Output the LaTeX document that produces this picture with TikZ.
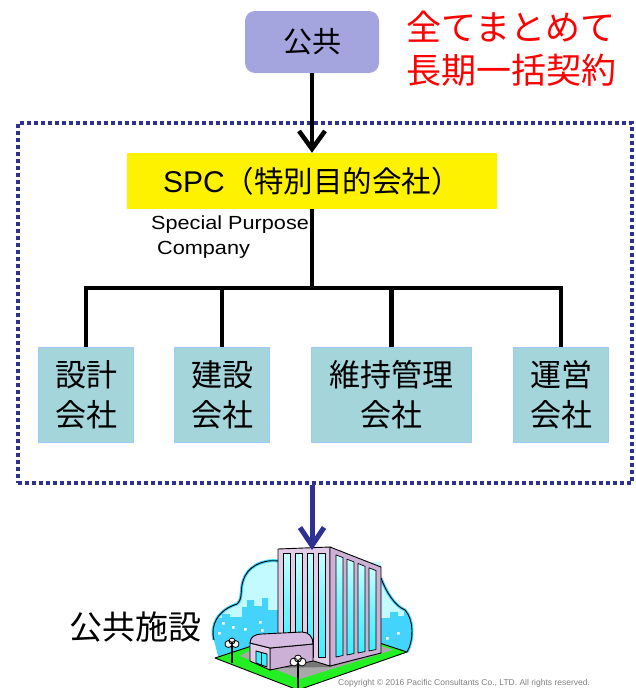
\documentclass[tikz,border=0pt]{standalone}
\usepackage{fontspec}
\setmainfont{Liberation Sans}
\newfontfamily\jp{Noto Sans CJK JP}
\newfontfamily\widesans[FakeStretch=1.14]{Liberation Sans}
\usetikzlibrary{arrows.meta}

\definecolor{pubfill}{HTML}{A4A4DE}
\definecolor{framenavy}{HTML}{2E3192}
\definecolor{unitfill}{HTML}{A3D5DB}
\definecolor{unitedge}{HTML}{9CCBFA}
\definecolor{cloudfill}{HTML}{C2FAFF}
\definecolor{cloudglow}{HTML}{3ED6FF}
\definecolor{skyline}{HTML}{44D3FA}
\definecolor{groundgray}{HTML}{A8A8A8}
\definecolor{grass}{HTML}{22F022}
\definecolor{towerfront}{HTML}{E2CCE8}
\definecolor{towerside}{HTML}{CDB0D6}
\definecolor{glasstop}{HTML}{C8FFFF}
\definecolor{glassbot}{HTML}{3CEEFF}
\definecolor{annexroof}{HTML}{D6BCE0}

\tikzset{
  pubbox/.style={rounded corners=10pt, fill=pubfill, minimum width=134pt,
    minimum height=62pt, inner sep=0pt, font=\jp\fontsize{29}{34}\selectfont},
  mottotext/.style={align=center, text=red, inner sep=0pt,
    font=\jp\fontsize{35}{43}\selectfont},
  framebox/.style={draw=framenavy, line width=4pt, dash pattern=on 4pt off 3pt,
    minimum width=614pt, minimum height=360pt, inner sep=0pt},
  spcbox/.style={fill=yellow, minimum width=370pt, minimum height=56pt, inner sep=0pt},
  notetext/.style={inner sep=0pt, anchor=base west, font=\widesans\fontsize{19}{24}\selectfont},
  unitbox/.style={fill=unitfill, draw=unitedge, line width=1.5pt, minimum height=95pt,
    inner sep=0pt, align=center, font=\jp\fontsize{31}{40}\selectfont},
  orgline/.style={draw=black, line width=4.5pt},
  toparrow/.style={draw=black, line width=4.5pt, -{Straight Barb[length=18pt,width=26pt]}},
  downarrow/.style={draw=framenavy, line width=5pt, -{Straight Barb[length=18pt,width=24pt]}},
  facilitylabel/.style={inner sep=0pt, font=\jp\fontsize{33}{40}\selectfont},
  outline/.style={draw=black, line width=0.9pt, line join=round},
  glass/.style={outline, line width=0.7pt, top color=glasstop, bottom color=glassbot,
    middle color=glassbot!60!glasstop},
}

\begin{document}
\begin{tikzpicture}[x=1pt,y=-1pt]
\useasboundingbox (0,0) rectangle (635,688);

% top: the public client and the slogan
\node[pubbox] (pub) at (312,42) {公共};
\node[mottotext] (motto) at (511,49) {全てまとめて\\長期一括契約};

% dotted frame around the SPC consortium
\node[framebox] (frame) at (325,303) {};

% SPC
\node[spcbox] (spc) at (312,181) {\fontsize{30}{36}\selectfont SPC{\jp\fontsize{29.5}{36}\selectfont （特別目的会社）}};
\node[notetext] (note1) at (151,229) {Special Purpose};
\node[notetext] (note2) at (157,254) {Company};

% member companies
\node[unitbox, minimum width=95pt]  (u1) at (86,395)    {設計\\会社};
\node[unitbox, minimum width=95pt]  (u2) at (222,395)   {建設\\会社};
\node[unitbox, minimum width=160pt] (u3) at (391.5,395) {維持管理\\会社};
\node[unitbox, minimum width=95pt]  (u4) at (561,395)   {運営\\会社};

% organisation lines
\coordinate (bus) at (312,288);
\draw[toparrow] (pub.south) -- (spc.north);
\draw[orgline] (spc.south) -- (bus);
\draw[orgline] (u1.north) |- (bus) -| (u4.north);
\draw[orgline] (u2.north) -- (u2.north |- bus);
\draw[orgline] (u3.north) -- (u3.north |- bus);

% ---------- public facility illustration ----------
\coordinate (roof) at (312,550);

% cloud backdrop
\path[fill=cloudfill] (218,656) -- (214,640) .. controls (210,625) and (218,610) .. (237,604)
  .. controls (243,599) and (240,590) .. (243,581) .. controls (247,567) and (262,559) .. (278,561)
  -- (381,562) -- (381,578) .. controls (386,592) and (395,606) .. (405,610)
  .. controls (414,620) and (414,640) .. (407,652) -- cycle;
\begin{scope}
  \clip (218,656) -- (214,640) .. controls (210,625) and (218,610) .. (237,604)
  .. controls (243,599) and (240,590) .. (243,581) .. controls (247,567) and (262,559) .. (278,561)
  -- (381,562) -- (381,578) .. controls (386,592) and (395,606) .. (405,610)
  .. controls (414,620) and (414,640) .. (407,652) -- cycle;
  \fill[skyline] (205,700) -- (205,618) -- (222,618) -- (222,614) -- (230,614) -- (230,617)
    -- (242,617) -- (242,607) -- (247,607) -- (247,600) -- (254,600) -- (254,606) -- (262,606)
    -- (262,598) -- (268,598) -- (268,610) -- (280,610) -- (280,700) -- cycle;
  \fill[skyline] (380,700) -- (380,618) -- (390,618) -- (390,612) -- (398,612) -- (398,616)
    -- (404,616) -- (404,611) -- (420,611) -- (420,700) -- cycle;
  \fill[white] (222,622) rectangle ++(2.5,2.5) (232,626) rectangle ++(2.5,2.5)
    (244,628) rectangle ++(2.5,2.5) (259,621) rectangle ++(2.5,2.5)
    (261,629) rectangle ++(2.5,2.5) (218,632) rectangle ++(2.5,2.5)
    (386,637) rectangle ++(2.5,2.5) (397,632) rectangle ++(2.5,2.5);
\end{scope}
\draw[cloudglow, line width=3pt] (214,640) .. controls (210,625) and (218,610) .. (237,604)
  .. controls (243,599) and (240,590) .. (243,581) .. controls (247,567) and (262,559) .. (278,561);
\draw[cloudglow, line width=3pt] (381,578) .. controls (386,592) and (395,606) .. (405,610)
  .. controls (414,620) and (414,640) .. (407,652);
\draw[outline] (214,640) .. controls (210,625) and (218,610) .. (237,604)
  .. controls (243,599) and (240,590) .. (243,581) .. controls (247,567) and (262,559) .. (278,561);
\draw[outline] (381,578) .. controls (386,592) and (395,606) .. (405,610)
  .. controls (414,620) and (414,640) .. (407,652);

% ground
\draw[outline, fill=grass] (215,658) -- (298,690) -- (407,652) -- (340,630) -- (270,640) -- cycle;
\fill[groundgray] (240,656) -- (300,679) -- (393,650) -- (340,632) -- (265,642) -- cycle;
\fill[groundgray!70!black] (276,668) -- (330,667) -- (381,653) -- (313,660) -- cycle;

% tower
\draw[outline, fill=towerfront] (278,549) -- (330,547) -- (330,666) -- (278,650) -- cycle;
\draw[outline, fill=towerside] (330,547) -- (381,567) -- (381,653) -- (330,666) -- cycle;
\foreach \a/\b in {283/290, 295/302, 307/313, 318/325}
  \draw[glass] (\a,553) rectangle (\b,657);
\draw[glass] (336,554.9) -- (343,557.6) -- (343,655.5) -- (336,657) -- cycle;
\draw[glass] (347,559.2) -- (354,561.9) -- (354,653.5) -- (347,655) -- cycle;
\draw[glass] (358,563.5) -- (365,566.3) -- (365,651.5) -- (358,653) -- cycle;
\draw[glass] (369,567.8) -- (376,570.6) -- (376,649.5) -- (369,651) -- cycle;

% annex with vaulted roof
\draw[outline, fill=towerside] (270,648) -- (313,644) -- (313,661) -- (270,670) -- cycle;
\draw[outline, fill=towerfront] (250,643) -- (270,648) -- (270,670) -- (250,661) -- cycle;
\draw[outline, fill=annexroof] (250,643) .. controls (250,637) and (255,634) .. (262,634)
  -- (302,632) .. controls (309,632) and (313,637) .. (313,644) -- (270,648) -- cycle;
\draw[outline, fill=glassbot] (256,651) -- (267,654) -- (267,667) -- (256,663) -- cycle;
\draw[outline] (261.5,652.5) -- (261.5,665);

% street lamps
\draw[line width=1.6pt] (232,645) -- (232,663);
\filldraw[fill=white, line width=0.8pt] (228.5,644) circle[radius=3.5pt]
  (235.5,644) circle[radius=3.5pt] (232,641) circle[radius=3pt];
\draw[line width=1.8pt] (298,664) -- (298,688);
\filldraw[fill=white, line width=0.8pt] (294,662) circle[radius=4pt]
  (302,662) circle[radius=4pt] (298,658.5) circle[radius=3.5pt];

% contract flows down to the facility
\draw[downarrow] (roof |- frame.south) -- (roof);

\node[facilitylabel] (facility) at (135,627) {公共施設};
\node[inner sep=0pt, anchor=base west, text=gray, font=\fontsize{8.5}{10}\selectfont]
  (copy) at (338,685.5) {Copyright © 2016 Pacific Consultants Co., LTD. All rights reserved.};
\end{tikzpicture}
\end{document}
